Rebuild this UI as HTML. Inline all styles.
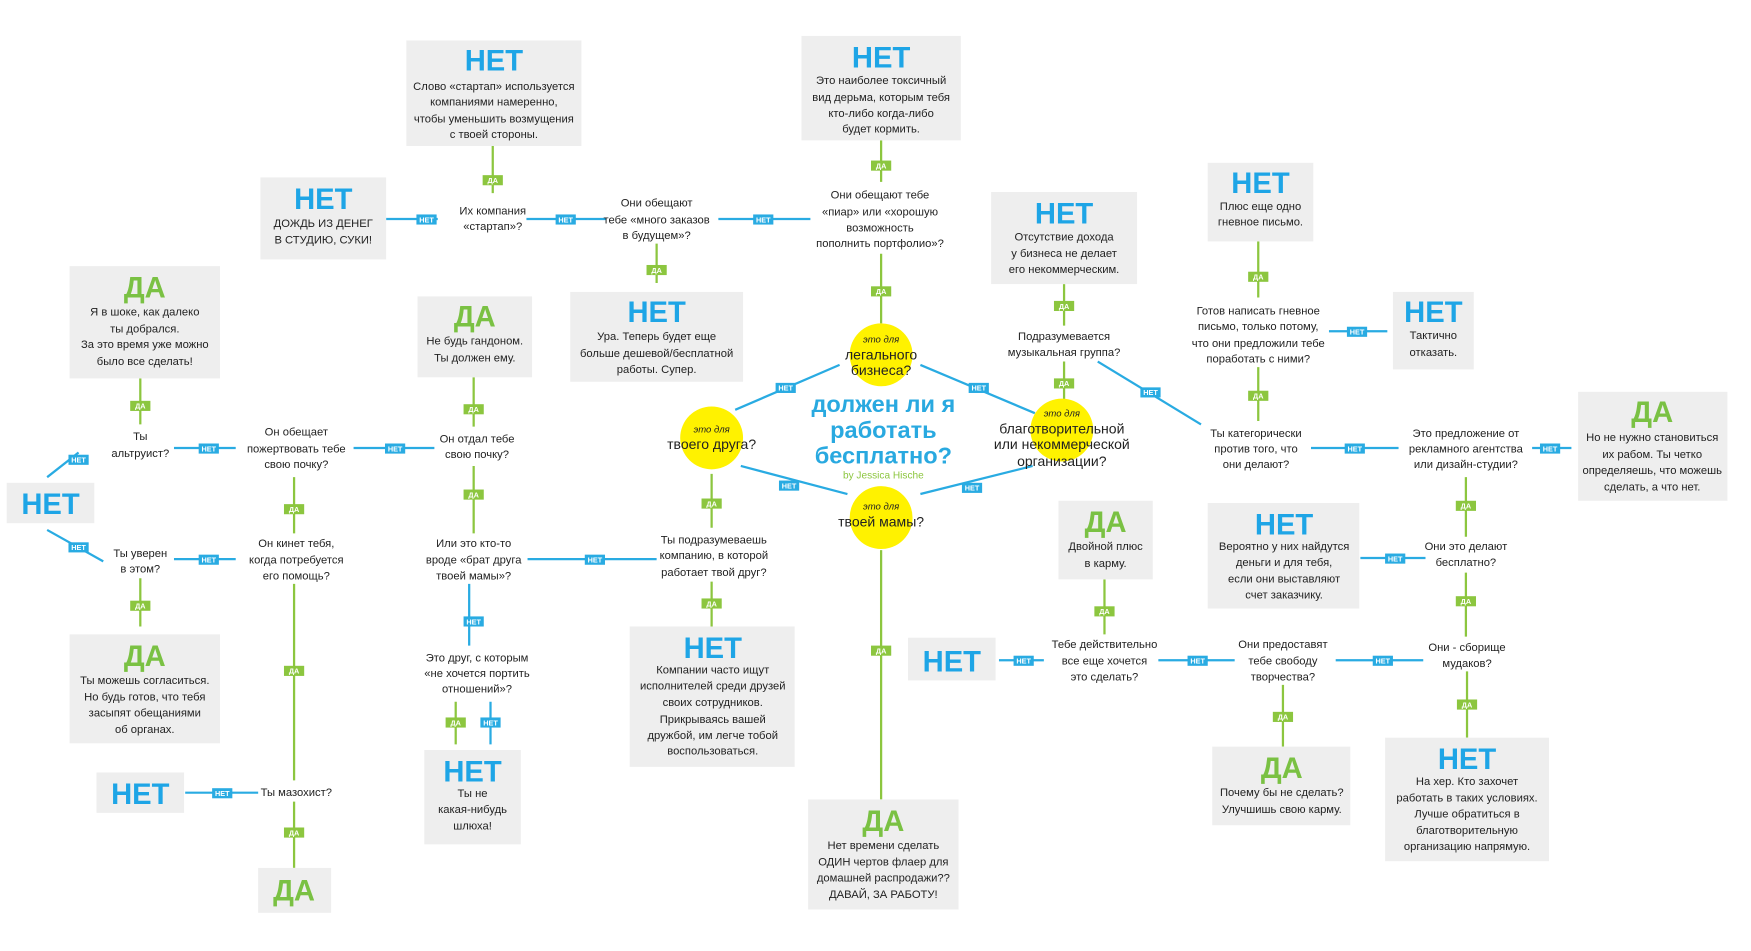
<!DOCTYPE html><html><head><meta charset="utf-8"><style>html,body{margin:0;padding:0;background:#fff}svg{display:block}
.b{fill:#eeeeee}.t{font-family:"Liberation Sans",sans-serif;font-size:10px;fill:#222;text-anchor:middle}
.hn{font-family:"Liberation Sans",sans-serif;font-size:26px;font-weight:bold;fill:#1ea5e6;text-anchor:middle}
.hd{font-family:"Liberation Sans",sans-serif;font-size:26px;font-weight:bold;fill:#7ac143;text-anchor:middle}
.g{stroke:#8cc63f;stroke-width:2;fill:none}.u{stroke:#29abe2;stroke-width:2;fill:none}
.lg{fill:#8cc63f}.lb{fill:#29abe2}.lt{font-family:"Liberation Sans",sans-serif;font-size:6.5px;font-weight:bold;fill:#fff;text-anchor:middle}
.c{fill:#fff200}.it{font-family:"Liberation Sans",sans-serif;font-size:8.5px;font-style:italic;fill:#222;text-anchor:middle}
.ct{font-family:"Liberation Sans",sans-serif;font-size:12.5px;fill:#222;text-anchor:middle}
</style></head><body>
<svg width="1751" height="951" viewBox="0 0 1560 847" preserveAspectRatio="none" xmlns="http://www.w3.org/2000/svg">
<g class="g">
<path d="M439 130V172M785 125V162M785 226V288M585 217V252M948 253V290M948 322V357M1121 215V265M1121 327V375M125 337V378M125 515V558M262 425V475M262 520V695M262 714V773M422 336V380M422 415V475M634 422V470M634 518V558M785 490V712M984 516V565M1143 610V665M1306 425V478M1306 510V567M1307 598V657M406 625V663"/>
</g>
<g class="u">
<path d="M344 195H390M469 195H540M640 195H722M418 520V575M437 625V663M42 425L70 403M42 472L92 500M155 399H210M315 399H387M155 498H210M470 498H585M165 706H230M655 365L748 325M820 325L922 368M660 415L755 440M820 440L920 415M978 322L1070 378M1184 295H1236M1168 399H1246M1365 399H1400M1212 497H1270M890 588H930M1032 588H1100M1190 588H1268"/>
</g>
<g>
<rect class="lg" x="430" y="156" width="18" height="9"/><text class="lt" x="439" y="163">ДА</text>
<rect class="lg" x="776" y="143" width="18" height="9"/><text class="lt" x="785" y="150">ДА</text>
<rect class="lg" x="776" y="255" width="18" height="9"/><text class="lt" x="785" y="262">ДА</text>
<rect class="lg" x="576" y="236" width="18" height="9"/><text class="lt" x="585" y="243">ДА</text>
<rect class="lg" x="939" y="268" width="18" height="9"/><text class="lt" x="948" y="275">ДА</text>
<rect class="lg" x="939" y="337" width="18" height="9"/><text class="lt" x="948" y="344">ДА</text>
<rect class="lg" x="1112" y="242" width="18" height="9"/><text class="lt" x="1121" y="249">ДА</text>
<rect class="lg" x="1112" y="348" width="18" height="9"/><text class="lt" x="1121" y="355">ДА</text>
<rect class="lg" x="116" y="357" width="18" height="9"/><text class="lt" x="125" y="364">ДА</text>
<rect class="lg" x="116" y="535" width="18" height="9"/><text class="lt" x="125" y="542">ДА</text>
<rect class="lg" x="253" y="449" width="18" height="9"/><text class="lt" x="262" y="456">ДА</text>
<rect class="lg" x="253" y="593" width="18" height="9"/><text class="lt" x="262" y="600">ДА</text>
<rect class="lg" x="253" y="737" width="18" height="9"/><text class="lt" x="262" y="744">ДА</text>
<rect class="lg" x="413" y="360" width="18" height="9"/><text class="lt" x="422" y="367">ДА</text>
<rect class="lg" x="413" y="436" width="18" height="9"/><text class="lt" x="422" y="443">ДА</text>
<rect class="lg" x="625" y="444" width="18" height="9"/><text class="lt" x="634" y="451">ДА</text>
<rect class="lg" x="625" y="533" width="18" height="9"/><text class="lt" x="634" y="540">ДА</text>
<rect class="lg" x="776" y="575" width="18" height="9"/><text class="lt" x="785" y="582">ДА</text>
<rect class="lg" x="975" y="540" width="18" height="9"/><text class="lt" x="984" y="547">ДА</text>
<rect class="lg" x="1134" y="634" width="18" height="9"/><text class="lt" x="1143" y="641">ДА</text>
<rect class="lg" x="1297" y="446" width="18" height="9"/><text class="lt" x="1306" y="453">ДА</text>
<rect class="lg" x="1297" y="531" width="18" height="9"/><text class="lt" x="1306" y="538">ДА</text>
<rect class="lg" x="1298" y="623" width="18" height="9"/><text class="lt" x="1307" y="630">ДА</text>
<rect class="lg" x="397" y="639" width="18" height="9"/><text class="lt" x="406" y="646">ДА</text>
<rect class="lb" x="428" y="639" width="18" height="9"/><text class="lt" x="437" y="646">НЕТ</text>
<rect class="lb" x="371" y="191" width="18" height="9"/><text class="lt" x="380" y="198">НЕТ</text>
<rect class="lb" x="495" y="191" width="18" height="9"/><text class="lt" x="504" y="198">НЕТ</text>
<rect class="lb" x="671" y="191" width="18" height="9"/><text class="lt" x="680" y="198">НЕТ</text>
<rect class="lb" x="413" y="549" width="18" height="9"/><text class="lt" x="422" y="556">НЕТ</text>
<rect class="lb" x="61" y="405" width="18" height="9"/><text class="lt" x="70" y="412">НЕТ</text>
<rect class="lb" x="61" y="483" width="18" height="9"/><text class="lt" x="70" y="490">НЕТ</text>
<rect class="lb" x="177" y="395" width="18" height="9"/><text class="lt" x="186" y="402">НЕТ</text>
<rect class="lb" x="343" y="395" width="18" height="9"/><text class="lt" x="352" y="402">НЕТ</text>
<rect class="lb" x="177" y="494" width="18" height="9"/><text class="lt" x="186" y="501">НЕТ</text>
<rect class="lb" x="521" y="494" width="18" height="9"/><text class="lt" x="530" y="501">НЕТ</text>
<rect class="lb" x="189" y="702" width="18" height="9"/><text class="lt" x="198" y="709">НЕТ</text>
<rect class="lb" x="691" y="341" width="18" height="9"/><text class="lt" x="700" y="348">НЕТ</text>
<rect class="lb" x="863" y="341" width="18" height="9"/><text class="lt" x="872" y="348">НЕТ</text>
<rect class="lb" x="694" y="428" width="18" height="9"/><text class="lt" x="703" y="435">НЕТ</text>
<rect class="lb" x="857" y="430" width="18" height="9"/><text class="lt" x="866" y="437">НЕТ</text>
<rect class="lb" x="1016" y="345" width="18" height="9"/><text class="lt" x="1025" y="352">НЕТ</text>
<rect class="lb" x="1200" y="291" width="18" height="9"/><text class="lt" x="1209" y="298">НЕТ</text>
<rect class="lb" x="1198" y="395" width="18" height="9"/><text class="lt" x="1207" y="402">НЕТ</text>
<rect class="lb" x="1372" y="395" width="18" height="9"/><text class="lt" x="1381" y="402">НЕТ</text>
<rect class="lb" x="1234" y="493" width="18" height="9"/><text class="lt" x="1243" y="500">НЕТ</text>
<rect class="lb" x="903" y="584" width="18" height="9"/><text class="lt" x="912" y="591">НЕТ</text>
<rect class="lb" x="1058" y="584" width="18" height="9"/><text class="lt" x="1067" y="591">НЕТ</text>
<rect class="lb" x="1223" y="584" width="18" height="9"/><text class="lt" x="1232" y="591">НЕТ</text>
</g>
<rect class="b" x="362" y="36" width="156" height="94"/><text class="hn" x="440" y="63">НЕТ</text>
<text class="t"><tspan x="440" y="80">Слово «стартап» используется</tspan><tspan x="440" y="94">компаниями намеренно,</tspan><tspan x="440" y="109">чтобы уменьшить возмущения</tspan><tspan x="440" y="123">с твоей стороны.</tspan></text>
<rect class="b" x="714" y="32" width="142" height="93"/><text class="hn" x="785" y="60">НЕТ</text>
<text class="t"><tspan x="785" y="75">Это наиболее токсичный</tspan><tspan x="785" y="90">вид дерьма, которым тебя</tspan><tspan x="785" y="104">кто-либо когда-либо</tspan><tspan x="785" y="118">будет кормить.</tspan></text>
<rect class="b" x="232" y="158" width="112" height="73"/><text class="hn" x="288" y="186">НЕТ</text>
<text class="t"><tspan x="288" y="202">ДОЖДЬ ИЗ ДЕНЕГ</tspan><tspan x="288" y="217">В СТУДИЮ, СУКИ!</tspan></text>
<rect class="b" x="883" y="171" width="130" height="82"/><text class="hn" x="948" y="199">НЕТ</text>
<text class="t"><tspan x="948" y="214">Отсутствие дохода</tspan><tspan x="948" y="229">у бизнеса не делает</tspan><tspan x="948" y="243">его некоммерческим.</tspan></text>
<rect class="b" x="1076" y="145" width="94" height="70"/><text class="hn" x="1123" y="172">НЕТ</text>
<text class="t"><tspan x="1123" y="187">Плюс еще одно</tspan><tspan x="1123" y="201">гневное письмо.</tspan></text>
<rect class="b" x="1241" y="260" width="72" height="69"/><text class="hn" x="1277" y="287">НЕТ</text>
<text class="t"><tspan x="1277" y="302">Тактично</tspan><tspan x="1277" y="317">отказать.</tspan></text>
<rect class="b" x="62" y="237" width="134" height="100"/><text class="hd" x="129" y="265">ДА</text>
<text class="t"><tspan x="129" y="281">Я в шоке, как далеко</tspan><tspan x="129" y="296">ты добрался.</tspan><tspan x="129" y="310">За это время уже можно</tspan><tspan x="129" y="325">было все сделать!</tspan></text>
<rect class="b" x="372" y="264" width="102" height="72"/><text class="hd" x="423" y="291">ДА</text>
<text class="t"><tspan x="423" y="307">Не будь гандоном.</tspan><tspan x="423" y="322">Ты должен ему.</tspan></text>
<rect class="b" x="508" y="260" width="154" height="80"/><text class="hn" x="585" y="287">НЕТ</text>
<text class="t"><tspan x="585" y="303">Ура. Теперь будет еще</tspan><tspan x="585" y="318">больше дешевой/бесплатной</tspan><tspan x="585" y="332">работы. Супер.</tspan></text>
<rect class="b" x="1406" y="349" width="133" height="97"/><text class="hd" x="1472" y="376">ДА</text>
<text class="t"><tspan x="1472" y="393">Но не нужно становиться</tspan><tspan x="1472" y="408">их рабом. Ты четко</tspan><tspan x="1472" y="422">определяешь, что можешь</tspan><tspan x="1472" y="437">сделать, а что нет.</tspan></text>
<rect class="b" x="6" y="430" width="78" height="36"/><text class="hn" x="45" y="458">НЕТ</text>
<rect class="b" x="943" y="446" width="84" height="70"/><text class="hd" x="985" y="474">ДА</text>
<text class="t"><tspan x="985" y="490">Двойной плюс</tspan><tspan x="985" y="505">в карму.</tspan></text>
<rect class="b" x="1076" y="448" width="135" height="94"/><text class="hn" x="1144" y="476">НЕТ</text>
<text class="t"><tspan x="1144" y="490">Вероятно у них найдутся</tspan><tspan x="1144" y="504">деньги и для тебя,</tspan><tspan x="1144" y="519">если они выставляют</tspan><tspan x="1144" y="533">счет заказчику.</tspan></text>
<rect class="b" x="62" y="565" width="134" height="97"/><text class="hd" x="129" y="593">ДА</text>
<text class="t"><tspan x="129" y="609">Ты можешь согласиться.</tspan><tspan x="129" y="624">Но будь готов, что тебя</tspan><tspan x="129" y="638">засыпят обещаниями</tspan><tspan x="129" y="653">об органах.</tspan></text>
<rect class="b" x="561" y="558" width="147" height="125"/><text class="hn" x="635" y="586">НЕТ</text>
<text class="t"><tspan x="635" y="600">Компании часто ищут</tspan><tspan x="635" y="614">исполнителей среди друзей</tspan><tspan x="635" y="629">своих сотрудников.</tspan><tspan x="635" y="644">Прикрываясь вашей</tspan><tspan x="635" y="658">дружбой, им легче тобой</tspan><tspan x="635" y="672">воспользоваться.</tspan></text>
<rect class="b" x="378" y="668" width="86" height="84"/><text class="hn" x="421" y="696">НЕТ</text>
<text class="t"><tspan x="421" y="710">Ты не</tspan><tspan x="421" y="724">какая-нибудь</tspan><tspan x="421" y="739">шлюха!</tspan></text>
<rect class="b" x="809" y="568" width="78" height="38"/><text class="hn" x="848" y="598">НЕТ</text>
<rect class="b" x="1080" y="665" width="123" height="70"/><text class="hd" x="1142" y="693">ДА</text>
<text class="t"><tspan x="1142" y="709">Почему бы не сделать?</tspan><tspan x="1142" y="724">Улучшишь свою карму.</tspan></text>
<rect class="b" x="1234" y="657" width="146" height="110"/><text class="hn" x="1307" y="685">НЕТ</text>
<text class="t"><tspan x="1307" y="699">На хер. Кто захочет</tspan><tspan x="1307" y="714">работать в таких условиях.</tspan><tspan x="1307" y="728">Лучше обратиться в</tspan><tspan x="1307" y="743">благотворительную</tspan><tspan x="1307" y="757">организацию напрямую.</tspan></text>
<rect class="b" x="86" y="688" width="78" height="36"/><text class="hn" x="125" y="716">НЕТ</text>
<rect class="b" x="230" y="773" width="65" height="40"/><text class="hd" x="262" y="802">ДА</text>
<rect class="b" x="720" y="712" width="134" height="98"/><text class="hd" x="787" y="740">ДА</text>
<text class="t"><tspan x="787" y="756">Нет времени сделать</tspan><tspan x="787" y="771">ОДИН чертов флаер для</tspan><tspan x="787" y="785">домашней распродажи??</tspan><tspan x="787" y="800">ДАВАЙ, ЗА РАБОТУ!</tspan></text>
<text class="t"><tspan x="439" y="191">Их компания</tspan><tspan x="439" y="205">«стартап»?</tspan></text>
<text class="t"><tspan x="585" y="184">Они обещают</tspan><tspan x="585" y="199">тебе «много заказов</tspan><tspan x="585" y="213">в будущем»?</tspan></text>
<text class="t"><tspan x="784" y="177">Они обещают тебе</tspan><tspan x="784" y="192">«пиар» или «хорошую</tspan><tspan x="784" y="206">возможность</tspan><tspan x="784" y="220">пополнить портфолио»?</tspan></text>
<text class="t"><tspan x="948" y="303">Подразумевается</tspan><tspan x="948" y="317">музыкальная группа?</tspan></text>
<text class="t"><tspan x="1121" y="280">Готов написать гневное</tspan><tspan x="1121" y="294">письмо, только потому,</tspan><tspan x="1121" y="309">что они предложили тебе</tspan><tspan x="1121" y="323">поработать с ними?</tspan></text>
<text class="t"><tspan x="1119" y="389">Ты категорически</tspan><tspan x="1119" y="403">против того, что</tspan><tspan x="1119" y="417">они делают?</tspan></text>
<text class="t"><tspan x="1306" y="389">Это предложение от</tspan><tspan x="1306" y="403">рекламного агентства</tspan><tspan x="1306" y="417">или дизайн-студии?</tspan></text>
<text class="t"><tspan x="125" y="392">Ты</tspan><tspan x="125" y="407">альтруист?</tspan></text>
<text class="t"><tspan x="264" y="388">Он обещает</tspan><tspan x="264" y="403">пожертвовать тебе</tspan><tspan x="264" y="417">свою почку?</tspan></text>
<text class="t"><tspan x="425" y="394">Он отдал тебе</tspan><tspan x="425" y="408">свою почку?</tspan></text>
<text class="t"><tspan x="125" y="496">Ты уверен</tspan><tspan x="125" y="510">в этом?</tspan></text>
<text class="t"><tspan x="264" y="487">Он кинет тебя,</tspan><tspan x="264" y="502">когда потребуется</tspan><tspan x="264" y="516">его помощь?</tspan></text>
<text class="t"><tspan x="422" y="487">Или это кто-то</tspan><tspan x="422" y="502">вроде «брат друга</tspan><tspan x="422" y="516">твоей мамы»?</tspan></text>
<text class="t"><tspan x="636" y="484">Ты подразумеваешь</tspan><tspan x="636" y="498">компанию, в которой</tspan><tspan x="636" y="513">работает твой друг?</tspan></text>
<text class="t"><tspan x="1306" y="490">Они это делают</tspan><tspan x="1306" y="504">бесплатно?</tspan></text>
<text class="t"><tspan x="425" y="589">Это друг, с которым</tspan><tspan x="425" y="603">«не хочется портить</tspan><tspan x="425" y="617">отношений»?</tspan></text>
<text class="t"><tspan x="984" y="577">Тебе действительно</tspan><tspan x="984" y="592">все еще хочется</tspan><tspan x="984" y="606">это сделать?</tspan></text>
<text class="t"><tspan x="1143" y="577">Они предоставят</tspan><tspan x="1143" y="592">тебе свободу</tspan><tspan x="1143" y="606">творчества?</tspan></text>
<text class="t"><tspan x="1307" y="580">Они - сборище</tspan><tspan x="1307" y="594">мудаков?</tspan></text>
<text class="t" x="264" y="709">Ты мазохист?</text>
<circle class="c" cx="785" cy="316" r="28"/>
<text class="it" x="785" y="305">это для</text><text class="ct"><tspan x="785" y="320">легального</tspan><tspan x="785" y="334">бизнеса?</tspan></text>
<circle class="c" cx="634" cy="390" r="28"/>
<text class="it" x="634" y="385">это для</text><text class="ct" x="634" y="400">твоего друга?</text>
<circle class="c" cx="785" cy="461" r="28"/>
<text class="it" x="785" y="454">это для</text><text class="ct" x="785" y="469">твоей мамы?</text>
<circle class="c" cx="946" cy="383" r="28"/>
<text class="it" x="946" y="371">это для</text><text class="ct"><tspan x="946" y="386">благотворительной</tspan><tspan x="946" y="400">или некоммерческой</tspan><tspan x="946" y="415">организации?</tspan></text>
<g font-family="Liberation Sans, sans-serif" font-weight="bold" font-size="21" fill="#29a9e0" text-anchor="middle">
<text x="787" y="367">должен ли я</text><text x="787" y="390">работать</text><text x="787" y="413">бесплатно?</text></g>
<text x="787" y="426" font-family="Liberation Sans, sans-serif" font-size="9" fill="#8cc63f" text-anchor="middle">by Jessica Hische</text>
</svg></body></html>
